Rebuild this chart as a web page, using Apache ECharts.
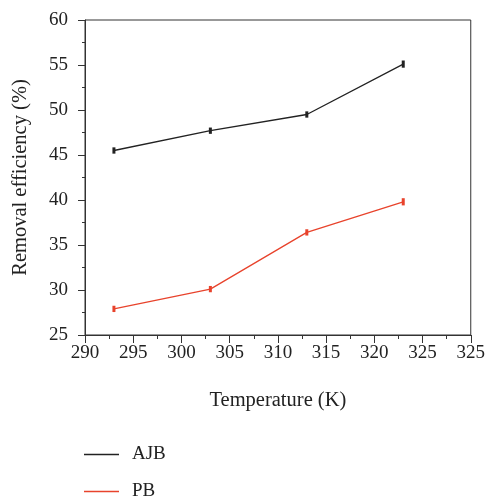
<!DOCTYPE html>
<html>
<head>
<meta charset="utf-8">
<script src="https://cdn.jsdelivr.net/npm/echarts@6/dist/echarts.min.js"></script>
<style>
  html, body { margin: 0; padding: 0; background: #fff; }
  #chart { width: 488px; height: 498px; }
</style>
</head>
<body>
<div id="chart"></div>
<script>
// data
var temperatures = [293, 303, 313, 323];
var ajbValues = [45.5, 47.7, 49.5, 55.1];
var ajbErrors = [0.35, 0.35, 0.35, 0.4];
var pbValues = [27.9, 30.1, 36.4, 39.8];
var pbErrors = [0.35, 0.35, 0.35, 0.4];
// the original figure repeats "325" at the last tick
var xTickLabels = ['290', '295', '300', '305', '310', '315', '320', '325', '325'];
var seriesNames = ['AJB', 'PB'];

var fontFamily = '"Liberation Serif", "DejaVu Serif", serif';
var ajbColor = '#222222';
var pbColor = '#e8432c';

function pairs(xs, ys) {
    return xs.map(function (x, i) { return [x, ys[i]]; });
}

function errorData(xs, ys, errs) {
    return xs.map(function (x, i) { return [x, ys[i] - errs[i], ys[i] + errs[i]]; });
}

function renderErrorBar(params, api) {
    var low = api.coord([api.value(0), api.value(1)]);
    var high = api.coord([api.value(0), api.value(2)]);
    var w = 3;
    return {
        type: 'rect',
        shape: { x: low[0] - w / 2, y: high[1], width: w, height: Math.max(low[1] - high[1], 1) },
        style: { fill: api.visual('color') }
    };
}

// one legend per entry so they stack like the original
function makeLegend(name, top) {
    return {
        left: 84,
        top: top,
        padding: 0,
        itemWidth: 35,
        itemHeight: 1.5,
        icon: 'rect',
        textStyle: { fontFamily: fontFamily, fontSize: 19, color: '#222', padding: [0, 0, 0, 8] },
        data: [name]
    };
}

var dom = document.getElementById('chart');
var myChart = echarts.init(dom);
var option = {
    animation: false,
    grid: {
        left: 85,
        right: 17,
        top: 20,
        bottom: 163,
        show: true,
        borderColor: '#333',
        borderWidth: 1
    },
    legend: [makeLegend(seriesNames[0], 445), makeLegend(seriesNames[1], 482)],
    xAxis: {
        type: 'value',
        min: 290,
        max: 330,
        interval: 5,
        name: 'Temperature (K)',
        nameLocation: 'middle',
        nameGap: 55,
        nameTextStyle: { fontFamily: fontFamily, fontSize: 20.5, color: '#222' },
        axisLine: { show: true, lineStyle: { color: '#333', width: 1 } },
        axisTick: { show: true, inside: false, length: 8, lineStyle: { color: '#333' } },
        minorTick: { show: true, splitNumber: 2, length: 4, lineStyle: { color: '#333' } },
        splitLine: { show: false },
        axisLabel: {
            fontFamily: fontFamily,
            fontSize: 19,
            color: '#222',
            margin: 9,
            formatter: function (v) {
                return xTickLabels[Math.round((v - 290) / 5)];
            }
        }
    },
    yAxis: {
        type: 'value',
        min: 25,
        max: 60,
        interval: 5,
        name: 'Removal efficiency (%)',
        nameLocation: 'middle',
        nameGap: 54,
        nameTextStyle: { fontFamily: fontFamily, fontSize: 20.5, color: '#222' },
        axisLine: { show: true, lineStyle: { color: '#333', width: 1 } },
        axisTick: { show: true, inside: false, length: 7, lineStyle: { color: '#333' } },
        minorTick: { show: true, splitNumber: 2, length: 3, lineStyle: { color: '#333' } },
        splitLine: { show: false },
        axisLabel: { fontFamily: fontFamily, fontSize: 19, color: '#222', margin: 17 }
    },
    series: [
        {
            name: seriesNames[0],
            type: 'line',
            data: pairs(temperatures, ajbValues),
            symbol: 'none',
            color: ajbColor,
            lineStyle: { color: ajbColor, width: 1.3 }
        },
        {
            name: seriesNames[1],
            type: 'line',
            data: pairs(temperatures, pbValues),
            symbol: 'none',
            color: pbColor,
            lineStyle: { color: pbColor, width: 1.3 }
        },
        {
            name: 'AJB error',
            type: 'custom',
            renderItem: renderErrorBar,
            itemStyle: { color: ajbColor },
            encode: { x: 0, y: [1, 2] },
            data: errorData(temperatures, ajbValues, ajbErrors),
            z: 3
        },
        {
            name: 'PB error',
            type: 'custom',
            renderItem: renderErrorBar,
            itemStyle: { color: pbColor },
            encode: { x: 0, y: [1, 2] },
            data: errorData(temperatures, pbValues, pbErrors),
            z: 3
        }
    ]
};
myChart.setOption(option);
</script>
</body>
</html>
